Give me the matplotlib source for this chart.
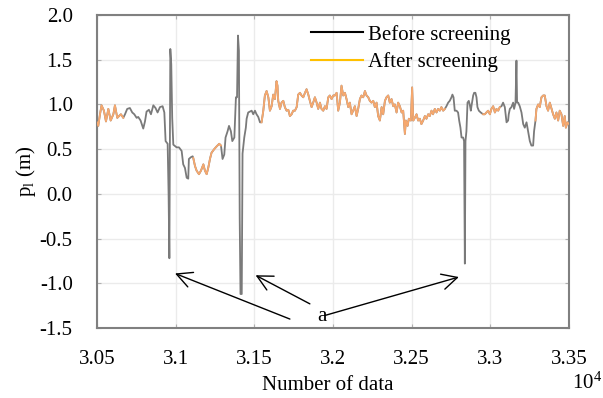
import matplotlib
matplotlib.use("Agg")
import matplotlib.pyplot as plt
from matplotlib.lines import Line2D
import numpy as np

plt.rcParams['font.family'] = ['Liberation Serif', 'DejaVu Serif']
plt.rcParams['mathtext.fontset'] = 'custom'
plt.rcParams['mathtext.rm'] = 'Liberation Serif'
plt.rcParams['mathtext.it'] = 'Liberation Serif:italic'

# data index and water level before screening
idx = [30500, 30508, 30519, 30529, 30544, 30557, 30572, 30587, 30604, 30614,
       30629, 30640, 30652, 30667, 30678, 30692, 30709, 30724, 30737, 30752,
       30762, 30777, 30794, 30805, 30815, 30830, 30843, 30858, 30872, 30885,
       30900, 30917, 30928, 30936, 30949, 30955, 30960, 30966, 30972, 30978,
       30985, 31006, 31021, 31038, 31048, 31059, 31070, 31080, 31084, 31097,
       31108, 31112, 31123, 31133, 31148, 31161, 31176, 31186, 31197, 31207,
       31218, 31228, 31245, 31260, 31277, 31288, 31298, 31309, 31317, 31330,
       31339, 31351, 31360, 31373, 31383, 31390, 31396, 31402, 31407, 31412,
       31420, 31425, 31436, 31446, 31451, 31461, 31472, 31483, 31493, 31504,
       31514, 31525, 31536, 31546, 31557, 31567, 31578, 31589, 31599, 31610,
       31620, 31631, 31641, 31647, 31652, 31663, 31673, 31684, 31694, 31705,
       31716, 31726, 31737, 31747, 31758, 31769, 31779, 31790, 31800, 31811,
       31822, 31832, 31843, 31853, 31864, 31874, 31885, 31896, 31906, 31917,
       31927, 31938, 31949, 31959, 31970, 31980, 31991, 32002, 32012, 32023,
       32033, 32044, 32054, 32065, 32076, 32086, 32097, 32107, 32118, 32128,
       32139, 32150, 32160, 32171, 32181, 32192, 32203, 32213, 32224, 32234,
       32245, 32256, 32266, 32277, 32287, 32298, 32309, 32319, 32330, 32340,
       32351, 32361, 32372, 32383, 32393, 32404, 32414, 32425, 32436, 32446,
       32457, 32463, 32474, 32482, 32495, 32503, 32510, 32520, 32531, 32541,
       32552, 32562, 32573, 32584, 32594, 32605, 32615, 32626, 32636, 32647,
       32658, 32668, 32679, 32689, 32700, 32711, 32721, 32732, 32742, 32753,
       32759, 32766, 32770, 32774, 32785, 32795, 32802, 32810, 32817, 32827,
       32833, 32838, 32842, 32848, 32855, 32863, 32869, 32876, 32880, 32891,
       32897, 32905, 32912, 32918, 32927, 32939, 32954, 32965, 32975, 32986,
       32997, 33007, 33018, 33029, 33039, 33050, 33060, 33071, 33081, 33092,
       33103, 33113, 33117, 33124, 33134, 33145, 33151, 33160, 33166, 33170,
       33177, 33187, 33198, 33209, 33219, 33230, 33240, 33251, 33261, 33272,
       33278, 33287, 33293, 33304, 33314, 33325, 33336, 33346, 33357, 33367,
       33378, 33389, 33399, 33410, 33420, 33431, 33441, 33452, 33463, 33473,
       33480, 33490, 33500]

p_before = [0.80, 0.76, 0.89, 0.99, 0.93, 0.81, 0.95, 0.82, 0.89, 0.99,
            0.85, 0.87, 0.89, 0.85, 0.89, 0.95, 0.96, 0.91, 0.89, 0.85,
            0.86, 0.82, 0.73, 0.81, 0.92, 0.94, 0.89, 0.99, 0.96, 0.91,
            0.97, 0.98, 0.91, 0.59, 0.56, 0.00, -0.72, 1.62, 1.45, 0.85,
            0.55, 0.52, 0.52, 0.48, 0.33, 0.29, 0.18, 0.17, 0.39, 0.41,
            0.42, 0.40, 0.31, 0.26, 0.22, 0.26, 0.33, 0.26, 0.22, 0.29,
            0.39, 0.46, 0.50, 0.53, 0.56, 0.54, 0.39, 0.44, 0.63, 0.70,
            0.76, 0.70, 0.59, 0.63, 1.08, 1.08, 1.77, 1.60, -0.27, -1.12,
            -1.12, 0.45, 0.63, 0.74, 0.84, 0.91, 0.92, 0.93, 0.89, 0.93,
            0.89, 0.86, 0.80, 0.80, 0.93, 1.10, 1.15, 1.08, 0.93, 0.98,
            1.11, 1.06, 1.26, 1.21, 1.04, 0.95, 1.02, 1.04, 0.97, 0.93,
            0.94, 0.87, 0.89, 0.93, 0.93, 0.97, 1.11, 1.13, 1.10, 1.08,
            1.13, 1.17, 1.11, 1.04, 0.97, 1.02, 1.08, 1.02, 0.95, 1.02,
            0.95, 0.93, 0.98, 0.95, 1.08, 1.10, 1.06, 1.10, 1.10, 1.13,
            0.93, 1.02, 1.21, 1.10, 1.13, 1.06, 0.97, 1.02, 0.89, 0.93,
            0.98, 0.87, 0.95, 1.06, 1.10, 1.08, 1.15, 1.10, 1.08, 1.04,
            1.02, 1.04, 0.97, 1.02, 0.87, 0.82, 0.97, 0.89, 1.04, 1.08,
            1.10, 1.02, 1.06, 0.98, 1.00, 0.91, 1.02, 0.98, 0.91, 0.93,
            0.67, 0.82, 0.76, 0.84, 0.82, 1.19, 0.82, 0.85, 0.89, 0.82,
            0.84, 0.78, 0.82, 0.87, 0.84, 0.89, 0.87, 0.93, 0.89, 0.95,
            0.91, 0.95, 0.93, 0.97, 0.93, 0.95, 0.98, 1.02, 1.04, 1.08,
            1.11, 1.08, 1.00, 0.93, 0.93, 0.91, 0.82, 0.74, 0.63, 0.63,
            0.59, -0.78, 0.59, 0.70, 1.02, 1.04, 1.00, 0.93, 0.98, 1.10,
            1.13, 1.13, 1.08, 0.97, 0.93, 0.91, 0.89, 0.89, 0.91, 0.93,
            0.89, 0.95, 0.98, 0.91, 0.95, 0.93, 0.97, 0.98, 1.02, 0.97,
            0.80, 0.82, 0.89, 0.95, 0.97, 1.02, 0.95, 1.02, 1.49, 1.02,
            1.02, 0.98, 0.91, 0.78, 0.74, 0.80, 0.70, 0.59, 0.54, 0.54,
            0.70, 0.82, 0.95, 1.00, 0.97, 1.08, 1.10, 1.10, 0.98, 0.93,
            1.02, 0.95, 0.89, 0.84, 0.91, 0.82, 0.93, 0.89, 0.76, 0.87,
            0.74, 0.80, 0.78]

# index ranges removed by the screening
screened = [(30670, 31110), (31290, 31540), (32715, 32950), (33065, 33283)]

xticks = [30500, 31000, 31500, 32000, 32500, 33000, 33500]
xtick_labels = ['3.05', '3.1', '3.15', '3.2', '3.25', '3.3', '3.35']
yticks = [-1.5, -1.0, -0.5, 0.0, 0.5, 1.0, 1.5, 2.0]
ytick_labels = ['-1.5', '-1.0', '-0.5', '0.0', '0.5', '1.0', '1.5', '2.0']

x = np.array(idx, dtype=float)
y = np.array(p_before, dtype=float)
y_after = y.copy()
for a, b in screened:
    y_after[(x > a) & (x < b)] = np.nan

fig = plt.figure(figsize=(6.03, 3.98), dpi=100)
ax = fig.add_axes([97/603, 1-328/398, 472/603, 313/398])

ax.plot(x, y, color='#7A7A7A', lw=1.3, zorder=2)
ax.plot(x, y_after, color='#F6A86E', lw=1.3, zorder=3)

ax.set_xlim(30500, 33500)
ax.set_ylim(-1.5, 2.0)
ax.set_xticks(xticks)
ax.set_xticklabels(xtick_labels)
ax.set_yticks(yticks)
ax.set_yticklabels(ytick_labels)
ax.grid(True, color='#EBEBEB', lw=1.0, zorder=0)
ax.set_axisbelow(True)
ax.tick_params(direction='in', length=3, color='#B0B0B0', labelsize=15,
               top=True, right=True)
ax.tick_params(axis='y', pad=17.5)
ax.tick_params(axis='x', pad=15.5)
for s in ax.spines.values():
    s.set_color('#808080')
    s.set_linewidth(1.5)

ax.set_xlabel('Number of data', fontsize=15)
ax.xaxis.set_label_coords(0.488, -0.152)
ax.set_ylabel('p$_\\mathrm{l}$ (m)', fontsize=15)
ax.yaxis.set_label_coords(-0.125, 0.5)
fig.text(602/603, 1-383/398, '10$^4$', fontsize=15, ha='right', va='center')

handles = [Line2D([], [], color='black', lw=1.5),
           Line2D([], [], color='#FFC000', lw=1.5)]
ax.legend(handles, ['Before screening', 'After screening'], loc='upper left',
          bbox_to_anchor=(0.453, 0.969), frameon=False, fontsize=15,
          handlelength=2.5, handletextpad=0.25, borderpad=0,
          borderaxespad=0, labelspacing=0.35)

# the arrows pointing at the abnormal spikes
ax.text(31929, -1.37, 'a', fontsize=15, ha='center', va='center')
arrows = [((31726, -1.40), (30996, -0.89)),
          ((31853, -1.23), (31508, -0.91)),
          ((31948, -1.36), (32800, -0.93))]
for start, end in arrows:
    ax.annotate('', xy=end, xytext=start,
                arrowprops=dict(arrowstyle='->,head_length=0.55,head_width=0.28',
                                color='black', lw=1, shrinkA=0, shrinkB=0,
                                mutation_scale=20))

fig.savefig('out.png', dpi=100)
